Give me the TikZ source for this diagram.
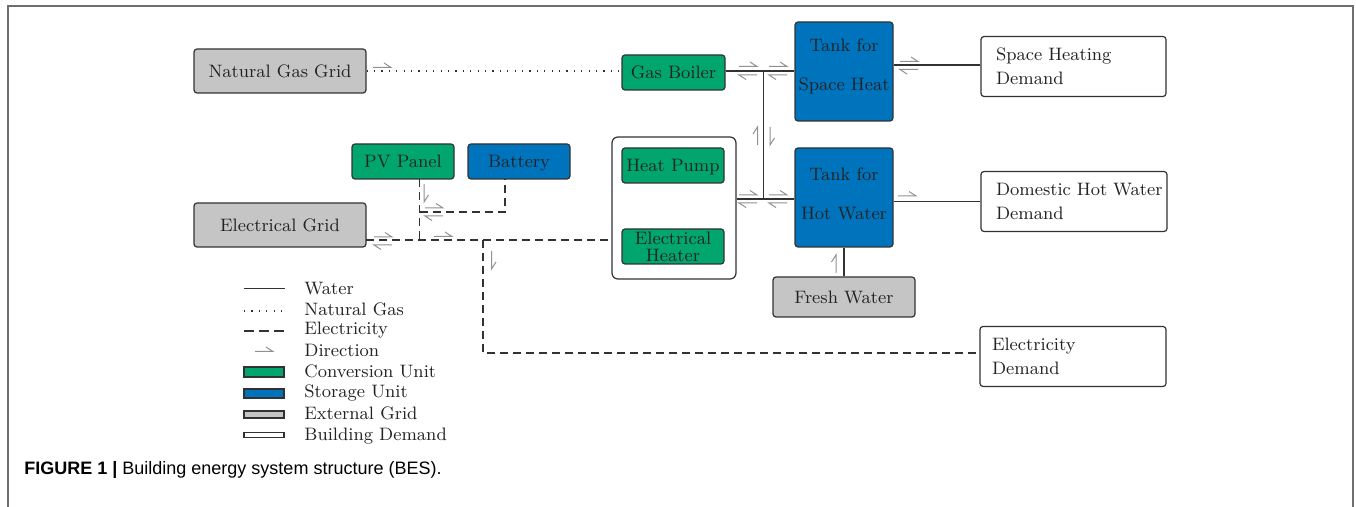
\documentclass[tikz,border=0pt]{standalone}
\usepackage{fontspec}
\newfontfamily\capfont{Liberation Sans}
\usetikzlibrary{calc}
\definecolor{cgreen}{RGB}{0,166,110}
\definecolor{cblue}{RGB}{0,115,189}
\definecolor{cgray}{RGB}{196,197,196}
\definecolor{cline}{RGB}{50,50,50}
\definecolor{charp}{RGB}{145,145,145}
\definecolor{ctext}{RGB}{35,35,35}
\definecolor{cframe}{RGB}{110,110,110}
\begin{document}
\begin{tikzpicture}[x=0.5pt,y=-0.5pt,
 every node/.style={text=ctext, font=\fontsize{9}{11}\selectfont},
 box/.style={draw=cline, line width=0.6pt, rounded corners=1.5pt, inner sep=0pt},
 one/.style={text height=6.3pt, text depth=0pt},
 conv/.style={box, fill=cgreen},
 stor/.style={box, fill=cblue},
 extg/.style={box, fill=cgray},
 dem/.style={box, fill=white, align=left, minimum height=30pt, font=\fontsize{9}{12}\selectfont},
 tanklbl/.style={align=center, font=\fontsize{9}{19.5}\selectfont, text=ctext},
 water/.style={draw=cline, line width=0.75pt},
 gas/.style={draw=cline, line width=0.65pt, dash pattern=on 0.6pt off 3.1pt},
 elec/.style={draw=cline, line width=0.75pt, dash pattern=on 4pt off 2.5pt},
 harp/.style={draw=charp, line width=0.5pt},
 hr/.pic={\draw[harp] (0,0) -- (18,0) -- (11,-4.5);},
 hl/.pic={\draw[harp] (18,0) -- (0,0) -- (7,4.5);},
 hu/.pic={\draw[harp] (0,0) -- (0,-18) -- (-4.5,-11);},
 hd/.pic={\draw[harp] (0,0) -- (0,18) -- (4.5,11);},
]
\useasboundingbox (0,0) rectangle (1356,507);
% frame
\draw[cframe, line width=0.75pt] (8,507) -- (8,6) -- (1353,6) -- (1353,507);

% nodes
\node[extg, one, minimum width=86pt, minimum height=22pt] (ngg) at (280,71) {Natural Gas Grid};
\node[conv, one, minimum width=51.5pt, minimum height=17.5pt] (gb) at (673.5,72.5) {Gas Boiler};
\node[stor, minimum width=49pt, minimum height=49.5pt,
  label={[tanklbl, yshift=2.4pt]center:Tank for\\Space Heat}] (tsh) at (844,71.5) {};
\node[dem, minimum width=92.5pt, text width=77.5pt, inner xsep=7.5pt] (shd) at (1073.5,66.5) {Space Heating\\Demand};

\node[conv, one, minimum width=51pt, minimum height=17.5pt] (pv) at (403,161.5) {PV Panel};
\node[stor, one, minimum width=51pt, minimum height=17.5pt] (bat) at (519,161.5) {Battery};

\node[box, fill=white, rounded corners=3pt, minimum width=62pt, minimum height=71pt] (cont) at (674,208) {};
\node[conv, one, minimum width=51pt, minimum height=17.5pt] (hp) at (673,165.5) {Heat Pump};
\node[conv, minimum width=51pt, minimum height=17.5pt, align=center, font=\fontsize{9}{8.5}\selectfont] (eh) at (673,246.5) {Electrical\\Heater};

\node[stor, minimum width=49pt, minimum height=49.5pt,
  label={[tanklbl, yshift=1.8pt]center:Tank for\\Hot Water}] (thw) at (844,197.5) {};
\node[dem, minimum width=93pt, text width=78pt, inner xsep=7.5pt] (dhw) at (1074,201.5) {\mbox{Domestic Hot Water}\\Demand};

\node[extg, one, minimum width=86pt, minimum height=22pt] (eg) at (280,225) {Electrical Grid};
\node[extg, one, minimum width=71pt, minimum height=20pt] (fw) at (844,297) {Fresh Water};
\node[dem, minimum width=93pt, text width=81pt, inner xsep=6pt] (ed) at (1073,356.5) {Electricity\\Demand};

% coordinates
\coordinate (j1) at (763.5,71);
\coordinate (j2) at (763.5,199);
\coordinate (e0) at (366,240);
\coordinate (p0) at (419.5,179);
\coordinate (pj) at (419.5,212);
\coordinate (pe) at (419.5,240);
\coordinate (b0) at (505,179);
\coordinate (bj) at (505,212);
\coordinate (dj) at (483,240);
\coordinate (dk) at (483,353);

% gas
\draw[gas] (ngg.east |- 0,71) -- (gb.west |- 0,71);
% water
\draw[water] (gb.east |- j1) -- (j1) -- (tsh.west |- j1);
\draw[water] (j1) -- (j2);
\draw[water] (cont.east |- j2) -- (j2) -- (thw.west |- j2);
\draw[water] (tsh.east |- 0,65) -- (shd.west |- 0,65);
\draw[water] (thw.east |- dhw.west) -- (dhw.west);
\draw[water] (fw.north) -- (thw.south);
% electricity
\draw[elec] (e0) -- (e0 -| cont.west);
\draw[elec] (p0) -- (pe);
\draw[elec] (pj) -- (bj) -- (b0);
\draw[elec] (dj) -- (dk) -- (dk -| ed.west);

% direction harpoons
\pic at (373,67.5) {hr};
\pic at (739,66.5) {hr}; \pic at (739,75) {hl};
\pic at (769,66.5) {hr}; \pic at (769,75) {hl};
\pic at (757.5,145) {hu}; \pic at (770,127) {hd};
\pic at (739,195) {hr}; \pic at (739,203) {hl};
\pic at (769,195) {hr}; \pic at (769,203) {hl};
\pic at (900,61.5) {hr}; \pic at (900,69.5) {hl};
\pic at (898,196) {hr};
\pic at (836,273) {hu};
\pic at (424,184) {hd};
\pic at (425,208) {hr}; \pic at (425,216) {hl};
\pic at (374,237) {hr}; \pic at (374,245) {hl};
\pic at (434,236.5) {hr};
\pic at (491.5,251) {hd};

% legend
\draw[water] (244,288.5) -- (285,288.5);
\draw[gas] (244,311) -- (285,311);
\draw[elec, dash pattern=on 5pt off 2.5pt] (244,331) -- (285,331);
\pic at (255,351.5) {hr};
\draw[draw=cline, line width=0.6pt, fill=cgreen] (244,367) rectangle (284,377);
\draw[draw=cline, line width=0.6pt, fill=cblue] (244,389) rectangle (284,398);
\draw[draw=cline, line width=0.7pt, fill=cgray] (244,411) rectangle (284,418);
\draw[draw=cline, line width=0.6pt, fill=white] (244,432.5) rectangle (284,437.5);
\node[anchor=base west, inner sep=0pt] (lw) at (304,295) {Water};
\node[anchor=base west, inner sep=0pt] (lg) at (304,315.5) {Natural Gas};
\node[anchor=base west, inner sep=0pt] (le) at (304,335) {Electricity};
\node[anchor=base west, inner sep=0pt] (ld) at (304,357) {Direction};
\node[anchor=base west, inner sep=0pt] (lc) at (304,378) {Conversion Unit};
\node[anchor=base west, inner sep=0pt] (ls) at (304,398) {Storage Unit};
\node[anchor=base west, inner sep=0pt] (lx) at (304,420) {External Grid};
\node[anchor=base west, inner sep=0pt] (lb) at (304,441) {Building Demand};

% caption
\node[anchor=base west, inner sep=0pt, text=black, font=\capfont\fontsize{9}{11}\selectfont] (cap) at (24,474.5) {\textbf{FIGURE 1 |} Building energy system structure (BES).};
\end{tikzpicture}
\end{document}
